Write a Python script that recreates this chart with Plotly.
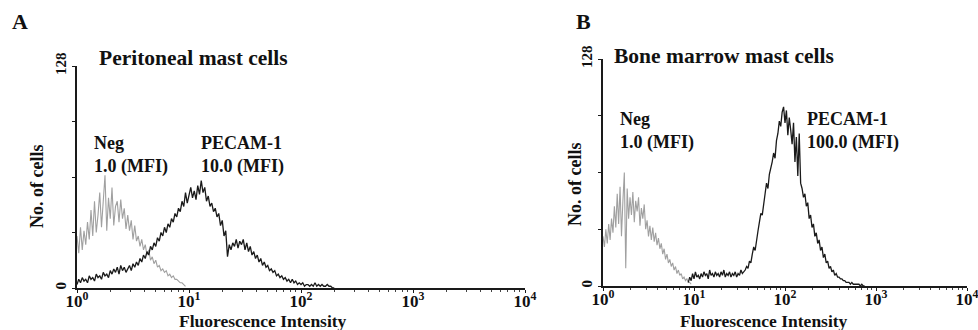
import numpy as np
import plotly.graph_objects as go

# ---- data: flow-cytometry histograms, 64 channels per decade ----
CH_PER_DECADE = 64

# Panel A: Peritoneal mast cells
a_neg_start = 0
a_neg = [30, 20, 35, 22, 33, 25, 38, 28, 45, 30,
         50, 32, 42, 55, 35, 48, 65, 33, 52, 40,
         58, 36, 47, 50, 38, 51, 40, 46, 34, 42,
         33, 39, 28, 36, 27, 30, 24, 28, 22, 25,
         19, 22, 16, 18, 14, 16, 12, 13, 10, 11,
         9, 10, 7, 8, 6, 7, 5, 5, 4, 3,
         3, 2, 1]
a_pecam_start = 0
a_pecam = [2, 5, 3, 6, 4, 5, 3, 7, 5, 6,
           4, 8, 6, 7, 5, 9, 7, 8, 6, 10,
           8, 11, 9, 12, 8, 13, 10, 12, 9, 11,
           13, 10, 14, 12, 15, 13, 17, 15, 19, 17,
           21, 19, 24, 22, 26, 24, 29, 27, 32, 30,
           35, 32, 37, 35, 40, 38, 43, 41, 46, 44,
           50, 47, 55, 49, 53, 58, 52, 56, 51, 59,
           54, 62, 55, 58, 50, 53, 47, 49, 44, 46,
           41, 43, 36, 39, 30, 33, 18, 25, 22, 26,
           24, 28, 23, 27, 25, 28, 22, 26, 21, 24,
           19, 21, 17, 19, 15, 17, 13, 15, 12, 13,
           10, 11, 9, 10, 7, 8, 6, 7, 5, 6,
           4, 5, 3, 5, 3, 4, 2, 3, 2, 3,
           1, 2, 2, 1, 2, 1, 3, 1, 2, 1,
           2, 1, 1, 2, 1, 1, 0, 0]

# Panel B: Bone marrow mast cells
b_neg_start = 0
b_neg = [28, 22, 32, 24, 35, 26, 38, 30, 45, 33,
         52, 35, 56, 28, 48, 64, 10, 55, 38, 50,
         40, 53, 36, 48, 42, 50, 34, 44, 38, 46,
         32, 37, 28, 34, 26, 33, 25, 30, 23, 27,
         21, 24, 18, 21, 15, 18, 13, 15, 11, 13,
         9, 11, 7, 9, 6, 7, 4, 5, 3, 4,
         2, 2, 1]
b_pecam_start = 60
b_pecam = [2, 5, 3, 7, 4, 8, 5, 6, 4, 7,
           5, 8, 6, 7, 4, 9, 6, 7, 5, 8,
           6, 7, 5, 8, 6, 9, 5, 7, 6, 8,
           5, 7, 6, 8, 5, 7, 6, 9, 7, 8,
           9, 11, 10, 14, 13, 18, 22, 20, 27, 31,
           36, 41, 40, 48, 52, 58, 55, 63, 66, 70,
           75, 72, 82, 86, 93, 90, 98, 101, 92, 99,
           85, 95, 88, 80, 92, 70, 84, 62, 86, 58,
           55, 50, 52, 45, 47, 38, 40, 33, 35, 28,
           30, 24, 26, 20, 22, 16, 18, 13, 14, 10,
           11, 8, 9, 6, 7, 5, 5, 4, 4, 3,
           3, 2, 2, 2, 1, 2, 1, 1, 1, 1,
           1, 0, 1, 0, 0]

x_tick_vals = [1, 10, 100, 1000, 10000]
x_tick_text = ["10<sup>0</sup>", "10<sup>1</sup>", "10<sup>2</sup>",
               "10<sup>3</sup>", "10<sup>4</sup>"]
y_tick_vals = [0, 32, 64, 96, 128]
y_tick_text = ["0", "", "", "", "128"]

panel_titles = ["Peritoneal mast cells", "Bone marrow mast cells"]
neg_labels = ["Neg<br>1.0 (MFI)", "Neg<br>1.0 (MFI)"]
pecam_labels = ["PECAM-1<br>10.0 (MFI)", "PECAM-1<br>100.0 (MFI)"]


def chan_x(start, vals):
    return 10 ** (np.arange(start, start + len(vals)) / CH_PER_DECADE)


W, H = 978, 330
FONT = "Liberation Serif"
GRAY = "#a0a0a0"
BLACK = "#1a1a1a"


def px(x):
    return x / W


def py(y):
    return 1 - y / H


fig = go.Figure()
fig.add_trace(go.Scatter(x=chan_x(a_neg_start, a_neg), y=a_neg, mode="lines",
                         line=dict(color=GRAY, width=1.1), xaxis="x", yaxis="y"))
fig.add_trace(go.Scatter(x=chan_x(a_pecam_start, a_pecam), y=a_pecam, mode="lines",
                         line=dict(color=BLACK, width=1.3), xaxis="x", yaxis="y"))
fig.add_trace(go.Scatter(x=chan_x(b_neg_start, b_neg), y=b_neg, mode="lines",
                         line=dict(color=GRAY, width=1.1), xaxis="x2", yaxis="y2"))
fig.add_trace(go.Scatter(x=chan_x(b_pecam_start, b_pecam), y=b_pecam, mode="lines",
                         line=dict(color=BLACK, width=1.3), xaxis="x2", yaxis="y2"))

minor_vals = [m * 10 ** d for d in range(4) for m in range(2, 10)]

xcommon = dict(type="log", range=[0, 4], tickmode="array", tickvals=x_tick_vals,
               ticktext=x_tick_text, ticks="outside", ticklen=3, tickcolor=BLACK,
               showline=True, linecolor=BLACK, linewidth=1.5, showgrid=False,
               zeroline=False, automargin=False, ticklabelstandoff=-6,
               ticklabeloverflow="allow",
               tickfont=dict(family=FONT, size=17, color="#111", weight="bold"),
               minor=dict(tickvals=minor_vals, ticks="outside", ticklen=2, tickcolor="#444"))
ycommon = dict(range=[0, 128], tickmode="array", tickvals=y_tick_vals, ticktext=y_tick_text,
               ticks="outside", ticklen=3, tickcolor=BLACK, tickangle=-90,
               showline=True, linecolor=BLACK, linewidth=1.5, showgrid=False,
               zeroline=False, automargin=False,
               tickfont=dict(family=FONT, size=15, color="#111", weight="bold"))

fig.update_layout(
    template="none",
    width=W, height=H, margin=dict(l=0, r=0, t=0, b=0, pad=0, autoexpand=False),
    paper_bgcolor="white", plot_bgcolor="white", showlegend=False,
    xaxis=dict(domain=[px(77), px(525)], anchor="y", **xcommon),
    yaxis=dict(domain=[py(288), py(66)], anchor="x", **ycommon),
    xaxis2=dict(domain=[px(603), px(967)], anchor="y2", **xcommon),
    yaxis2=dict(domain=[py(286), py(59)], anchor="x2", **ycommon),
)


def ann(text, x, y, size, xanchor="left", angle=0, align="left"):
    fig.add_annotation(text=text, x=px(x), y=py(y), xref="paper", yref="paper",
                       xanchor=xanchor, yanchor="middle", showarrow=False, align=align,
                       textangle=angle,
                       font=dict(family=FONT, size=size, color="#111", weight="bold"))


ann("A", 20, 22, 22, xanchor="center")
ann("B", 583, 22, 22, xanchor="center")
ann(panel_titles[0], 97, 58, 21.5)
ann(panel_titles[1], 612, 56, 21.5)
ann(neg_labels[0], 92, 155, 18)
ann(pecam_labels[0], 199, 155, 18)
ann(neg_labels[1], 618, 131, 18)
ann(pecam_labels[1], 805, 131, 18)
ann("No. of cells", 37, 187, 18, xanchor="center", angle=-90)
ann("No. of cells", 575, 185, 18, xanchor="center", angle=-90)
ann("Fluorescence Intensity", 177, 321, 17.5)
ann("Fluorescence Intensity", 678, 321, 17.5)

fig.write_html("out.html", config={"displayModeBar": False},
               post_script="document.body.style.margin='0';")
